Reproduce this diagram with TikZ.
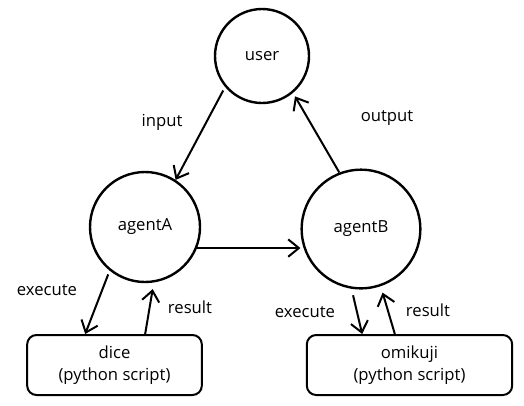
\documentclass[tikz,border=0pt]{standalone}
\usepackage{fontspec}
\setmainfont{Open Sans}
\usetikzlibrary{arrows.meta}

\tikzset{
  agent/.style={circle, draw, line width=1.8pt, inner sep=0pt},
  script/.style={draw, line width=1.5pt, rounded corners=7pt, align=center,
    minimum height=45pt, inner sep=0pt},
  flow/.style={->, line width=1.5pt},
  lbl/.style={inner sep=1pt}
}

\begin{document}
\begin{tikzpicture}[x=0.75pt, y=-0.75pt, >={Straight Barb[length=8pt,width=13pt]},
    font=\fontsize{12.5}{14}\selectfont]
  \useasboundingbox (0,0) rectangle (524,405);
  % Agents and the user
  \node[agent, minimum size=70.5pt] (user) at (262,56) {user};
  \node[agent, minimum size=82.5pt] (agentA) at (145,227) {agentA};
  \node[agent, minimum size=89pt] (agentB) at (361,229) {agentB};
  % Scripts
  \node[script, minimum width=131pt] (dice) at (114.5,365) {dice\\[3pt](python script)};
  \node[script, minimum width=154pt] (omikuji) at (409.5,365) {omikuji\\[3pt](python script)};
  % Flow between user and agents
  \draw[flow, shorten <=3pt] (user.220) -- (agentA.57);
  \draw[flow, shorten >=3pt] (agentB.111) -- (user.310);
  \draw[flow] (agentA.-22) -- (agentA.-22 -| agentB.west);
  % Tool calls
  \draw[flow, shorten <=3pt] (agentA.231) -- ([xshift=-22pt]dice.north);
  \draw[flow, shorten >=5pt] ([xshift=23pt]dice.north) -- (agentA.279);
  \draw[flow, shorten <=5pt] (agentB.261) -- ([xshift=-35.5pt]omikuji.north);
  \draw[flow, shorten >=5pt] ([xshift=-11pt]omikuji.north) -- (agentB.289);
  % Labels
  \node[lbl] (inputlbl) at (162,122) {input};
  \node[lbl] (outputlbl) at (387,118) {output};
  \node[lbl] (execA) at (47,290) {execute};
  \node[lbl] (resA) at (190,307) {result};
  \node[lbl] (execB) at (305,312) {execute};
  \node[lbl] (resB) at (428,310) {result};
\end{tikzpicture}
\end{document}
